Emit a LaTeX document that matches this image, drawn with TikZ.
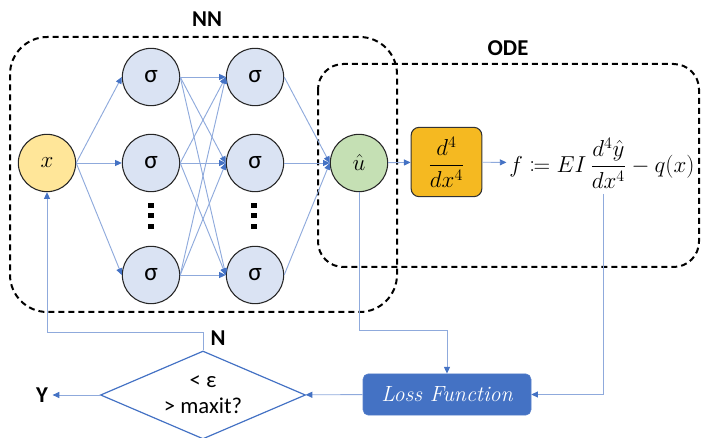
\documentclass[tikz,border=0pt]{standalone}
\usepackage{fontspec}
\usepackage{mathtools}
\usepackage{tikz}
\usetikzlibrary{
arrows.meta,
shapes.geometric,
}
\newfontfamily\calibri{Carlito}
\definecolor{lineblue}{HTML}{8FAADC}
\definecolor{tipblue}{HTML}{4472C4}
\definecolor{sigmafill}{HTML}{DAE3F3}
\definecolor{xfill}{HTML}{FFE699}
\definecolor{ufill}{HTML}{C5E0B4}
\definecolor{dfill}{HTML}{F5B921}
\definecolor{lossfill}{HTML}{4472C4}
\tikzset{neuron/.style = {shape=circle,draw=black!85,line width=0.8pt,minimum size=43pt,inner sep=0pt,font=\calibri\fontsize{19}{22}\selectfont}}
\tikzset{edge/.style = {draw=lineblue,line width=0.7pt,-{Triangle[length=5pt,width=4.5pt,color=tipblue]}}}
\tikzset{dashbox/.style = {draw=black,line width=1.5pt,dash pattern=on 4.5pt off 3pt}}
\tikzset{lbl/.style = {font=\calibri\bfseries\fontsize{17}{20}\selectfont}}
\tikzset{dbox/.style = {draw=black!80,line width=0.8pt,fill=dfill,rounded corners=6pt,minimum width=53pt,minimum height=52pt,inner sep=0pt,font=\fontsize{17}{20}\selectfont}}
\tikzset{lossbox/.style = {draw=tipblue!90!white,fill=lossfill,rounded corners=4pt,minimum width=126pt,minimum height=31pt,text=white,font=\itshape\fontsize{16.5}{19}\selectfont}}
\tikzset{decision/.style = {shape=diamond,aspect=2.33,draw=tipblue,line width=0.9pt,minimum width=153.75pt,minimum height=66pt,inner sep=0pt,align=center,font=\calibri\fontsize{17}{19.5}\selectfont}}

\begin{document}
\begin{tikzpicture}[x=0.75pt,y=-0.75pt]
\useasboundingbox (0,0) rectangle (701,438);
% dashed groups
\draw[dashbox,rounded corners=28pt] (10,37) rectangle (397,312);
\draw[dashbox,rounded corners=19pt] (318,64) rectangle (699,267);
\node[lbl] (nnlbl) at (207,19) {NN};
\node[lbl] (odelbl) at (508,48) {ODE};
%
\node[neuron,fill=xfill] (x) at (47,163) {$x$};
\foreach \i/\y in {1/77,2/163,3/275} {
  \node[neuron,fill=sigmafill] (a\i) at (151,\y) {σ};
  \node[neuron,fill=sigmafill] (b\i) at (255,\y) {σ};
}
\foreach \c in {151,254} \foreach \y in {206,216,227}
  \fill (\c-3,\y-2.5) rectangle (\c+3,\y+2.5);
\node[neuron,fill=ufill] (u) at (359,163) {$\hat{u}$};
\node[dbox] (dd) at (446.5,162) {$\dfrac{d^4}{dx^4}$};
\node[inner sep=2pt,font=\fontsize{17}{20}\selectfont] (f) at (602,163) {$f \coloneqq EI\,\dfrac{d^4\hat{y}}{dx^4} - q(x)$};
%
\foreach \i in {1,2,3} \draw[edge] (x.east) -- (a\i.west);
\foreach \i in {1,2,3} \foreach \j in {1,2,3} \draw[edge] (a\i.east) -- (b\j.west);
\foreach \i in {1,2,3} \draw[edge] (b\i.east) -- (u.west);
\draw[edge] (u) -- (dd);
\draw[edge] (dd) -- (f);
%
\node[lossbox] (loss) at (447,394.5) {Loss Function};
\node[decision] (dec) at (203,395) {< ε\\> maxit?};
\node[lbl] (ylbl) at (42,395) {Y};
\node[lbl] (nlbl) at (218,338) {N};
\coordinate (bendu) at (359,330);
\coordinate (bendn) at (47,332);
\coordinate (fout) at (603,194);
\draw[edge] (u) -- (bendu) -| (loss);
\draw[edge] (fout) |- (loss);
\draw[edge] (loss) -- (dec);
\draw[edge] (dec) -- (ylbl);
\draw[edge] (dec.north) |- (bendn) -- (x);
\end{tikzpicture}
\end{document}
